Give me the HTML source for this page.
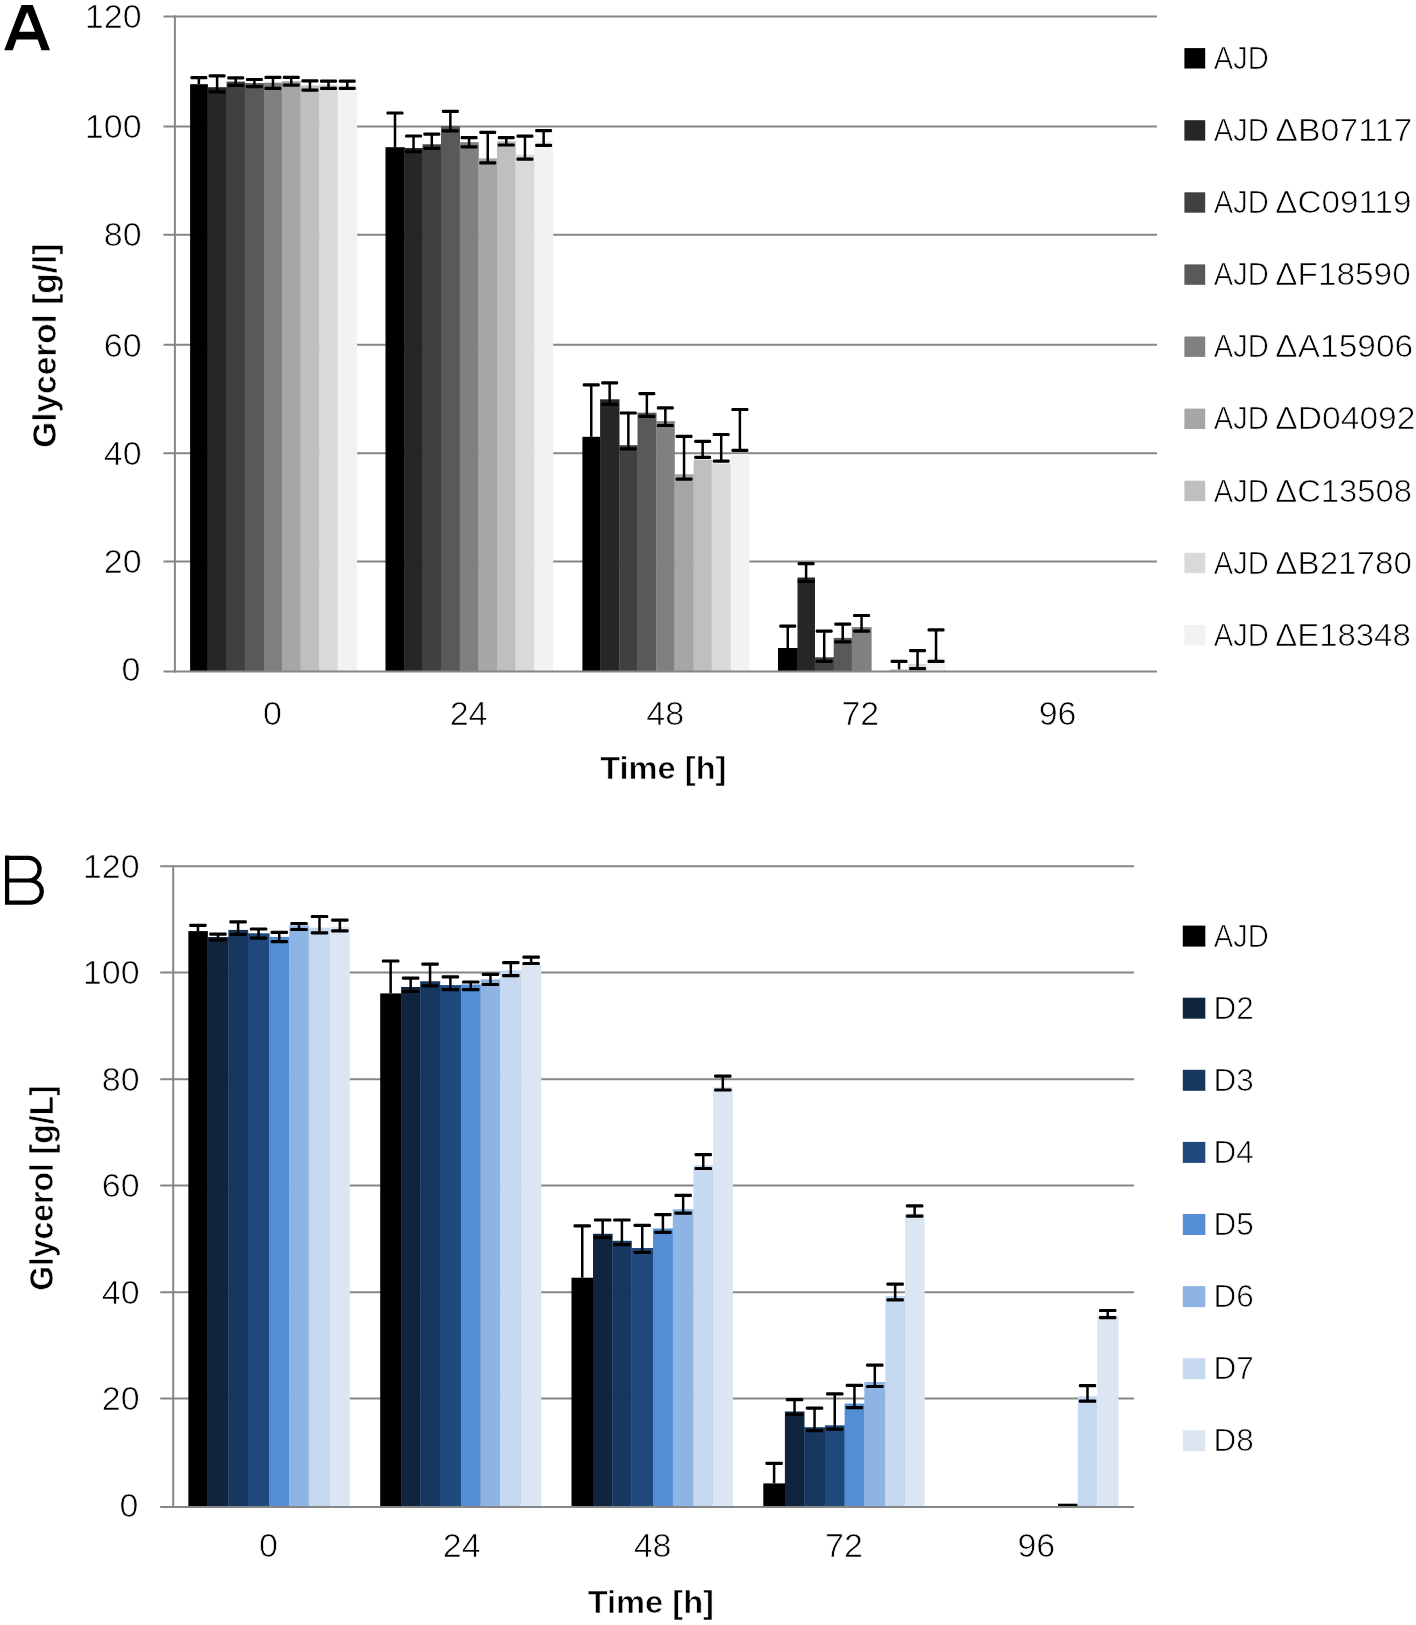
<!DOCTYPE html>
<html><head><meta charset="utf-8"><title>Glycerol consumption</title>
<style>
html,body{margin:0;padding:0;background:#fff;}
body{width:1416px;height:1625px;overflow:hidden;}
svg{display:block;will-change:transform;}
text{font-family:"Liberation Sans",sans-serif;fill:#000;}
.tl{font-size:34px;stroke:#fff;stroke-width:0.7px;}
.lg{font-size:31.5px;stroke:#fff;stroke-width:0.7px;}
.at{font-weight:bold;stroke:#fff;stroke-width:0.6px;}
</style></head><body>
<svg width="1416" height="1625" viewBox="0 0 1416 1625">
<rect width="1416" height="1625" fill="#fff"/>
<text x="140.4" y="681.2" class="tl" text-anchor="end">0</text>
<line x1="163.5" y1="561.45" x2="1157" y2="561.45" stroke="#868686" stroke-width="2"/>
<text x="141.6" y="573.15" class="tl" text-anchor="end">20</text>
<line x1="163.5" y1="453.3" x2="1157" y2="453.3" stroke="#868686" stroke-width="2"/>
<text x="141.6" y="465" class="tl" text-anchor="end">40</text>
<line x1="163.5" y1="344.85" x2="1157" y2="344.85" stroke="#868686" stroke-width="2"/>
<text x="141.6" y="356.55" class="tl" text-anchor="end">60</text>
<line x1="163.5" y1="234.75" x2="1157" y2="234.75" stroke="#868686" stroke-width="2"/>
<text x="141.6" y="246.45" class="tl" text-anchor="end">80</text>
<line x1="163.5" y1="126.5" x2="1157" y2="126.5" stroke="#868686" stroke-width="2"/>
<text x="141.6" y="138.2" class="tl" text-anchor="end">100</text>
<line x1="163.5" y1="16.5" x2="1157" y2="16.5" stroke="#868686" stroke-width="2"/>
<text x="141.6" y="28.2" class="tl" text-anchor="end">120</text>
<rect x="190.1" y="84.2" width="17.8" height="587.3" fill="#000000"/>
<rect x="207.6" y="87.2" width="19.3" height="584.3" fill="#262626"/>
<rect x="226.6" y="81.6" width="18.5" height="589.9" fill="#404040"/>
<rect x="244.8" y="83.1" width="19.5" height="588.4" fill="#595959"/>
<rect x="264" y="82.7" width="18.2" height="588.8" fill="#808080"/>
<rect x="281.9" y="81.2" width="19" height="590.3" fill="#a6a6a6"/>
<rect x="300.6" y="85.5" width="19" height="586" fill="#bfbfbf"/>
<rect x="319.3" y="84.7" width="18.7" height="586.8" fill="#d9d9d9"/>
<rect x="337.7" y="84.7" width="19.4" height="586.8" fill="#f2f2f2"/>
<rect x="385.5" y="147.2" width="19.3" height="524.3" fill="#000000"/>
<rect x="404.5" y="148" width="18.4" height="523.5" fill="#262626"/>
<rect x="422.6" y="144.3" width="18.7" height="527.2" fill="#404040"/>
<rect x="441" y="126.2" width="19" height="545.3" fill="#595959"/>
<rect x="459.7" y="142.2" width="19.1" height="529.3" fill="#808080"/>
<rect x="478.5" y="158.4" width="18.8" height="513.1" fill="#a6a6a6"/>
<rect x="497" y="141.3" width="18.8" height="530.2" fill="#bfbfbf"/>
<rect x="515.5" y="154.7" width="19.2" height="516.8" fill="#d9d9d9"/>
<rect x="534.4" y="140.6" width="18.8" height="530.9" fill="#f2f2f2"/>
<rect x="582.4" y="436.8" width="18" height="234.7" fill="#000000"/>
<rect x="600.1" y="399.3" width="19.4" height="272.2" fill="#262626"/>
<rect x="619.2" y="445.2" width="18.6" height="226.3" fill="#404040"/>
<rect x="637.5" y="412.7" width="19" height="258.8" fill="#595959"/>
<rect x="656.2" y="421.2" width="18.6" height="250.3" fill="#808080"/>
<rect x="674.5" y="474.2" width="19.4" height="197.3" fill="#a6a6a6"/>
<rect x="693.6" y="459.6" width="18.4" height="211.9" fill="#bfbfbf"/>
<rect x="711.7" y="463.5" width="19.3" height="208" fill="#d9d9d9"/>
<rect x="730.7" y="454" width="18.7" height="217.5" fill="#f2f2f2"/>
<rect x="778" y="648" width="19.8" height="23.5" fill="#000000"/>
<rect x="797.5" y="577.5" width="17.5" height="94" fill="#262626"/>
<rect x="814.7" y="657.3" width="19.3" height="14.2" fill="#404040"/>
<rect x="833.7" y="637.9" width="18.4" height="33.6" fill="#595959"/>
<rect x="851.8" y="627.1" width="19.8" height="44.4" fill="#808080"/>
<rect x="889.8" y="669.4" width="18.8" height="2.1" fill="#bfbfbf"/>
<rect x="908.3" y="664" width="18.8" height="7.5" fill="#d9d9d9"/>
<rect x="926.8" y="657.3" width="18.8" height="14.2" fill="#f2f2f2"/>
<line x1="198.85" y1="77.7" x2="198.85" y2="84.2" stroke="#000" stroke-width="2.5"/>
<rect x="190.35" y="76.1" width="17" height="3.2" rx="1.2" fill="#000"/>
<line x1="217.1" y1="75.8" x2="217.1" y2="91.9" stroke="#000" stroke-width="2.5"/>
<rect x="208.6" y="74.2" width="17" height="3.2" rx="1.2" fill="#000"/>
<rect x="208.6" y="90.3" width="17" height="3.2" rx="1.2" fill="#000"/>
<line x1="235.7" y1="77.9" x2="235.7" y2="85.3" stroke="#000" stroke-width="2.5"/>
<rect x="227.2" y="76.3" width="17" height="3.2" rx="1.2" fill="#000"/>
<rect x="227.2" y="83.7" width="17" height="3.2" rx="1.2" fill="#000"/>
<line x1="254.4" y1="79.5" x2="254.4" y2="86.7" stroke="#000" stroke-width="2.5"/>
<rect x="245.9" y="77.9" width="17" height="3.2" rx="1.2" fill="#000"/>
<rect x="245.9" y="85.1" width="17" height="3.2" rx="1.2" fill="#000"/>
<line x1="272.95" y1="77.4" x2="272.95" y2="88.3" stroke="#000" stroke-width="2.5"/>
<rect x="264.45" y="75.8" width="17" height="3.2" rx="1.2" fill="#000"/>
<rect x="264.45" y="86.7" width="17" height="3.2" rx="1.2" fill="#000"/>
<line x1="291.25" y1="77.4" x2="291.25" y2="85.1" stroke="#000" stroke-width="2.5"/>
<rect x="282.75" y="75.8" width="17" height="3.2" rx="1.2" fill="#000"/>
<rect x="282.75" y="83.5" width="17" height="3.2" rx="1.2" fill="#000"/>
<line x1="309.95" y1="80.9" x2="309.95" y2="90.1" stroke="#000" stroke-width="2.5"/>
<rect x="301.45" y="79.3" width="17" height="3.2" rx="1.2" fill="#000"/>
<rect x="301.45" y="88.5" width="17" height="3.2" rx="1.2" fill="#000"/>
<line x1="328.5" y1="81.1" x2="328.5" y2="88.3" stroke="#000" stroke-width="2.5"/>
<rect x="320" y="79.5" width="17" height="3.2" rx="1.2" fill="#000"/>
<rect x="320" y="86.7" width="17" height="3.2" rx="1.2" fill="#000"/>
<line x1="347.25" y1="81.1" x2="347.25" y2="88.3" stroke="#000" stroke-width="2.5"/>
<rect x="338.75" y="79.5" width="17" height="3.2" rx="1.2" fill="#000"/>
<rect x="338.75" y="86.7" width="17" height="3.2" rx="1.2" fill="#000"/>
<line x1="395" y1="113" x2="395" y2="147.2" stroke="#000" stroke-width="2.5"/>
<rect x="386.5" y="111.4" width="17" height="3.2" rx="1.2" fill="#000"/>
<line x1="413.55" y1="136" x2="413.55" y2="151.7" stroke="#000" stroke-width="2.5"/>
<rect x="405.05" y="134.4" width="17" height="3.2" rx="1.2" fill="#000"/>
<rect x="405.05" y="150.1" width="17" height="3.2" rx="1.2" fill="#000"/>
<line x1="431.8" y1="134.2" x2="431.8" y2="148.3" stroke="#000" stroke-width="2.5"/>
<rect x="423.3" y="132.6" width="17" height="3.2" rx="1.2" fill="#000"/>
<rect x="423.3" y="146.7" width="17" height="3.2" rx="1.2" fill="#000"/>
<line x1="450.35" y1="111.4" x2="450.35" y2="130.9" stroke="#000" stroke-width="2.5"/>
<rect x="441.85" y="109.8" width="17" height="3.2" rx="1.2" fill="#000"/>
<rect x="441.85" y="129.3" width="17" height="3.2" rx="1.2" fill="#000"/>
<line x1="469.1" y1="137.6" x2="469.1" y2="146.9" stroke="#000" stroke-width="2.5"/>
<rect x="460.6" y="136" width="17" height="3.2" rx="1.2" fill="#000"/>
<rect x="460.6" y="145.3" width="17" height="3.2" rx="1.2" fill="#000"/>
<line x1="487.75" y1="132.4" x2="487.75" y2="162.8" stroke="#000" stroke-width="2.5"/>
<rect x="479.25" y="130.8" width="17" height="3.2" rx="1.2" fill="#000"/>
<rect x="479.25" y="161.2" width="17" height="3.2" rx="1.2" fill="#000"/>
<line x1="506.25" y1="137.6" x2="506.25" y2="145" stroke="#000" stroke-width="2.5"/>
<rect x="497.75" y="136" width="17" height="3.2" rx="1.2" fill="#000"/>
<rect x="497.75" y="143.4" width="17" height="3.2" rx="1.2" fill="#000"/>
<line x1="524.95" y1="136.1" x2="524.95" y2="159.1" stroke="#000" stroke-width="2.5"/>
<rect x="516.45" y="134.5" width="17" height="3.2" rx="1.2" fill="#000"/>
<rect x="516.45" y="157.5" width="17" height="3.2" rx="1.2" fill="#000"/>
<line x1="543.65" y1="130.6" x2="543.65" y2="145.4" stroke="#000" stroke-width="2.5"/>
<rect x="535.15" y="129" width="17" height="3.2" rx="1.2" fill="#000"/>
<rect x="535.15" y="143.8" width="17" height="3.2" rx="1.2" fill="#000"/>
<line x1="591.25" y1="384.9" x2="591.25" y2="436.8" stroke="#000" stroke-width="2.5"/>
<rect x="582.75" y="383.3" width="17" height="3.2" rx="1.2" fill="#000"/>
<line x1="609.65" y1="382.8" x2="609.65" y2="404.3" stroke="#000" stroke-width="2.5"/>
<rect x="601.15" y="381.2" width="17" height="3.2" rx="1.2" fill="#000"/>
<rect x="601.15" y="402.7" width="17" height="3.2" rx="1.2" fill="#000"/>
<line x1="628.35" y1="413" x2="628.35" y2="448.8" stroke="#000" stroke-width="2.5"/>
<rect x="619.85" y="411.4" width="17" height="3.2" rx="1.2" fill="#000"/>
<rect x="619.85" y="447.2" width="17" height="3.2" rx="1.2" fill="#000"/>
<line x1="646.85" y1="393.7" x2="646.85" y2="416.3" stroke="#000" stroke-width="2.5"/>
<rect x="638.35" y="392.1" width="17" height="3.2" rx="1.2" fill="#000"/>
<rect x="638.35" y="414.7" width="17" height="3.2" rx="1.2" fill="#000"/>
<line x1="665.35" y1="407.8" x2="665.35" y2="425.5" stroke="#000" stroke-width="2.5"/>
<rect x="656.85" y="406.2" width="17" height="3.2" rx="1.2" fill="#000"/>
<rect x="656.85" y="423.9" width="17" height="3.2" rx="1.2" fill="#000"/>
<line x1="684.05" y1="436.3" x2="684.05" y2="479.1" stroke="#000" stroke-width="2.5"/>
<rect x="675.55" y="434.7" width="17" height="3.2" rx="1.2" fill="#000"/>
<rect x="675.55" y="477.5" width="17" height="3.2" rx="1.2" fill="#000"/>
<line x1="702.65" y1="441.4" x2="702.65" y2="457.4" stroke="#000" stroke-width="2.5"/>
<rect x="694.15" y="439.8" width="17" height="3.2" rx="1.2" fill="#000"/>
<rect x="694.15" y="455.8" width="17" height="3.2" rx="1.2" fill="#000"/>
<line x1="721.2" y1="434.5" x2="721.2" y2="461.1" stroke="#000" stroke-width="2.5"/>
<rect x="712.7" y="432.9" width="17" height="3.2" rx="1.2" fill="#000"/>
<rect x="712.7" y="459.5" width="17" height="3.2" rx="1.2" fill="#000"/>
<line x1="739.9" y1="409.5" x2="739.9" y2="450.4" stroke="#000" stroke-width="2.5"/>
<rect x="731.4" y="407.9" width="17" height="3.2" rx="1.2" fill="#000"/>
<rect x="731.4" y="448.8" width="17" height="3.2" rx="1.2" fill="#000"/>
<line x1="787.75" y1="626.2" x2="787.75" y2="648" stroke="#000" stroke-width="2.5"/>
<rect x="779.25" y="624.6" width="17" height="3.2" rx="1.2" fill="#000"/>
<line x1="806.1" y1="563.7" x2="806.1" y2="581.5" stroke="#000" stroke-width="2.5"/>
<rect x="797.6" y="562.1" width="17" height="3.2" rx="1.2" fill="#000"/>
<rect x="797.6" y="579.9" width="17" height="3.2" rx="1.2" fill="#000"/>
<line x1="824.2" y1="631.2" x2="824.2" y2="661.4" stroke="#000" stroke-width="2.5"/>
<rect x="815.7" y="629.6" width="17" height="3.2" rx="1.2" fill="#000"/>
<rect x="815.7" y="659.8" width="17" height="3.2" rx="1.2" fill="#000"/>
<line x1="842.75" y1="624.2" x2="842.75" y2="641.9" stroke="#000" stroke-width="2.5"/>
<rect x="834.25" y="622.6" width="17" height="3.2" rx="1.2" fill="#000"/>
<rect x="834.25" y="640.3" width="17" height="3.2" rx="1.2" fill="#000"/>
<line x1="861.55" y1="615.5" x2="861.55" y2="631.2" stroke="#000" stroke-width="2.5"/>
<rect x="853.05" y="613.9" width="17" height="3.2" rx="1.2" fill="#000"/>
<rect x="853.05" y="629.6" width="17" height="3.2" rx="1.2" fill="#000"/>
<line x1="899.05" y1="661.4" x2="899.05" y2="669.4" stroke="#000" stroke-width="2.5"/>
<rect x="890.55" y="659.8" width="17" height="3.2" rx="1.2" fill="#000"/>
<line x1="917.55" y1="650.6" x2="917.55" y2="668.7" stroke="#000" stroke-width="2.5"/>
<rect x="909.05" y="649" width="17" height="3.2" rx="1.2" fill="#000"/>
<rect x="909.05" y="667.1" width="17" height="3.2" rx="1.2" fill="#000"/>
<line x1="936.05" y1="629.8" x2="936.05" y2="661.4" stroke="#000" stroke-width="2.5"/>
<rect x="927.55" y="628.2" width="17" height="3.2" rx="1.2" fill="#000"/>
<rect x="927.55" y="659.8" width="17" height="3.2" rx="1.2" fill="#000"/>
<line x1="174.9" y1="15.5" x2="174.9" y2="672.5" stroke="#868686" stroke-width="2"/>
<line x1="163.5" y1="671.5" x2="1157" y2="671.5" stroke="#868686" stroke-width="2"/>
<text x="272.4" y="724.6" class="tl" text-anchor="middle">0</text>
<text x="468.6" y="724.6" class="tl" text-anchor="middle">24</text>
<text x="665.2" y="724.6" class="tl" text-anchor="middle">48</text>
<text x="860.3" y="724.6" class="tl" text-anchor="middle">72</text>
<text x="1057.6" y="724.6" class="tl" text-anchor="middle">96</text>
<path d="M21.6 5.1 H32.8 L50 50.2 H41.5 L37.7 39.4 H16.6 L12.7 50.2 H4.2 Z M27.1 11.9 L19.1 31.8 H35 Z" fill="#000" fill-rule="evenodd"/>
<text class="at" font-size="34" transform="translate(55.8,345.7) rotate(-90)" text-anchor="middle" textLength="204" lengthAdjust="spacingAndGlyphs">Glycerol [g/l]</text>
<text x="663.3" y="779.1" class="at" font-size="31.6" text-anchor="middle" textLength="126.3" lengthAdjust="spacingAndGlyphs">Time [h]</text>
<rect x="1184.4" y="48.1" width="20.8" height="20.4" fill="#000000"/>
<text x="1213.8" y="68.9" class="lg" textLength="55" lengthAdjust="spacingAndGlyphs">AJD</text>
<rect x="1184.4" y="120.2" width="20.8" height="20.4" fill="#262626"/>
<text x="1213.8" y="141" class="lg" textLength="55" lengthAdjust="spacingAndGlyphs">AJD</text>
<text x="1275.3" y="141" class="lg" textLength="137.1" lengthAdjust="spacingAndGlyphs">ΔB07117</text>
<rect x="1184.4" y="192.3" width="20.8" height="20.4" fill="#404040"/>
<text x="1213.8" y="213.1" class="lg" textLength="55" lengthAdjust="spacingAndGlyphs">AJD</text>
<text x="1275.3" y="213.1" class="lg" textLength="136.1" lengthAdjust="spacingAndGlyphs">ΔC09119</text>
<rect x="1184.4" y="264.4" width="20.8" height="20.4" fill="#595959"/>
<text x="1213.8" y="285.2" class="lg" textLength="55" lengthAdjust="spacingAndGlyphs">AJD</text>
<text x="1275.3" y="285.2" class="lg" textLength="135.4" lengthAdjust="spacingAndGlyphs">ΔF18590</text>
<rect x="1184.4" y="336.5" width="20.8" height="20.4" fill="#808080"/>
<text x="1213.8" y="357.3" class="lg" textLength="55" lengthAdjust="spacingAndGlyphs">AJD</text>
<text x="1275.3" y="357.3" class="lg" textLength="137.9" lengthAdjust="spacingAndGlyphs">ΔA15906</text>
<rect x="1184.4" y="408.6" width="20.8" height="20.4" fill="#a6a6a6"/>
<text x="1213.8" y="429.4" class="lg" textLength="55" lengthAdjust="spacingAndGlyphs">AJD</text>
<text x="1275.3" y="429.4" class="lg" textLength="140.2" lengthAdjust="spacingAndGlyphs">ΔD04092</text>
<rect x="1184.4" y="480.7" width="20.8" height="20.4" fill="#bfbfbf"/>
<text x="1213.8" y="501.5" class="lg" textLength="55" lengthAdjust="spacingAndGlyphs">AJD</text>
<text x="1275.3" y="501.5" class="lg" textLength="136.7" lengthAdjust="spacingAndGlyphs">ΔC13508</text>
<rect x="1184.4" y="552.8" width="20.8" height="20.4" fill="#d9d9d9"/>
<text x="1213.8" y="573.6" class="lg" textLength="55" lengthAdjust="spacingAndGlyphs">AJD</text>
<text x="1275.3" y="573.6" class="lg" textLength="136.7" lengthAdjust="spacingAndGlyphs">ΔB21780</text>
<rect x="1184.4" y="624.9" width="20.8" height="20.4" fill="#f2f2f2"/>
<text x="1213.8" y="645.7" class="lg" textLength="55" lengthAdjust="spacingAndGlyphs">AJD</text>
<text x="1275.3" y="645.7" class="lg" textLength="135.4" lengthAdjust="spacingAndGlyphs">ΔE18348</text>
<text x="138.4" y="1516.7" class="tl" text-anchor="end">0</text>
<line x1="160.2" y1="1398.6" x2="1134.1" y2="1398.6" stroke="#868686" stroke-width="2"/>
<text x="139.6" y="1410.3" class="tl" text-anchor="end">20</text>
<line x1="160.2" y1="1292.3" x2="1134.1" y2="1292.3" stroke="#868686" stroke-width="2"/>
<text x="139.6" y="1304" class="tl" text-anchor="end">40</text>
<line x1="160.2" y1="1185.6" x2="1134.1" y2="1185.6" stroke="#868686" stroke-width="2"/>
<text x="139.6" y="1197.3" class="tl" text-anchor="end">60</text>
<line x1="160.2" y1="1079.2" x2="1134.1" y2="1079.2" stroke="#868686" stroke-width="2"/>
<text x="139.6" y="1090.9" class="tl" text-anchor="end">80</text>
<line x1="160.2" y1="972.6" x2="1134.1" y2="972.6" stroke="#868686" stroke-width="2"/>
<text x="139.6" y="984.3" class="tl" text-anchor="end">100</text>
<line x1="160.2" y1="866.25" x2="1134.1" y2="866.25" stroke="#868686" stroke-width="2"/>
<text x="139.6" y="877.95" class="tl" text-anchor="end">120</text>
<rect x="188.35" y="931.1" width="19.5" height="575.9" fill="#000000"/>
<rect x="207.55" y="937" width="21.15" height="570" fill="#10243e"/>
<rect x="228.4" y="929.9" width="19.75" height="577.1" fill="#17375e"/>
<rect x="247.85" y="933.3" width="21.75" height="573.7" fill="#1f497d"/>
<rect x="269.3" y="936.9" width="20.25" height="570.1" fill="#558ed5"/>
<rect x="289.25" y="925.4" width="19.85" height="581.6" fill="#8eb4e3"/>
<rect x="308.8" y="927.7" width="21.65" height="579.3" fill="#c6d9f1"/>
<rect x="330.15" y="926.7" width="19.75" height="580.3" fill="#dce6f2"/>
<rect x="380.2" y="993.4" width="21.2" height="513.6" fill="#000000"/>
<rect x="401.1" y="987" width="19.4" height="520" fill="#10243e"/>
<rect x="420.2" y="981.3" width="20" height="525.7" fill="#17375e"/>
<rect x="439.9" y="985.1" width="21.3" height="521.9" fill="#1f497d"/>
<rect x="460.9" y="984.5" width="20" height="522.5" fill="#558ed5"/>
<rect x="480.6" y="979.4" width="20" height="527.6" fill="#8eb4e3"/>
<rect x="500.3" y="970.5" width="21.3" height="536.5" fill="#c6d9f1"/>
<rect x="521.3" y="964.8" width="20" height="542.2" fill="#dce6f2"/>
<rect x="571.5" y="1277.7" width="21.8" height="229.3" fill="#000000"/>
<rect x="593" y="1233.8" width="19.6" height="273.2" fill="#10243e"/>
<rect x="612.3" y="1240.8" width="19.5" height="266.2" fill="#17375e"/>
<rect x="631.5" y="1248" width="21.8" height="259" fill="#1f497d"/>
<rect x="653" y="1228.5" width="20.1" height="278.5" fill="#558ed5"/>
<rect x="672.8" y="1209.2" width="21" height="297.8" fill="#8eb4e3"/>
<rect x="693.5" y="1165.4" width="19.8" height="341.6" fill="#c6d9f1"/>
<rect x="713" y="1086.9" width="19.9" height="420.1" fill="#dce6f2"/>
<rect x="763.3" y="1483.4" width="21.9" height="23.6" fill="#000000"/>
<rect x="784.9" y="1411.5" width="19.6" height="95.5" fill="#10243e"/>
<rect x="804.2" y="1427.2" width="21" height="79.8" fill="#17375e"/>
<rect x="824.9" y="1425.3" width="20" height="81.7" fill="#1f497d"/>
<rect x="844.6" y="1403.6" width="20" height="103.4" fill="#558ed5"/>
<rect x="864.3" y="1382" width="21.3" height="125" fill="#8eb4e3"/>
<rect x="885.3" y="1295.9" width="20" height="211.1" fill="#c6d9f1"/>
<rect x="905" y="1213.6" width="19.6" height="293.4" fill="#dce6f2"/>
<line x1="1058" y1="1505.2" x2="1077.5" y2="1505.2" stroke="#000" stroke-width="3"/>
<rect x="1077.8" y="1396.2" width="19.7" height="110.8" fill="#c6d9f1"/>
<rect x="1097.2" y="1315.5" width="21.3" height="191.5" fill="#dce6f2"/>
<line x1="197.95" y1="925.4" x2="197.95" y2="931.1" stroke="#000" stroke-width="2.5"/>
<rect x="189.2" y="923.8" width="17.5" height="3.2" rx="1.2" fill="#000"/>
<line x1="217.98" y1="934.1" x2="217.98" y2="940" stroke="#000" stroke-width="2.5"/>
<rect x="209.23" y="932.5" width="17.5" height="3.2" rx="1.2" fill="#000"/>
<rect x="209.23" y="938.4" width="17.5" height="3.2" rx="1.2" fill="#000"/>
<line x1="238.12" y1="921.9" x2="238.12" y2="934.3" stroke="#000" stroke-width="2.5"/>
<rect x="229.38" y="920.3" width="17.5" height="3.2" rx="1.2" fill="#000"/>
<rect x="229.38" y="932.7" width="17.5" height="3.2" rx="1.2" fill="#000"/>
<line x1="258.57" y1="929" x2="258.57" y2="938.1" stroke="#000" stroke-width="2.5"/>
<rect x="249.82" y="927.4" width="17.5" height="3.2" rx="1.2" fill="#000"/>
<rect x="249.82" y="936.5" width="17.5" height="3.2" rx="1.2" fill="#000"/>
<line x1="279.27" y1="932.4" x2="279.27" y2="941.7" stroke="#000" stroke-width="2.5"/>
<rect x="270.52" y="930.8" width="17.5" height="3.2" rx="1.2" fill="#000"/>
<rect x="270.52" y="940.1" width="17.5" height="3.2" rx="1.2" fill="#000"/>
<line x1="299.02" y1="923.5" x2="299.02" y2="929.5" stroke="#000" stroke-width="2.5"/>
<rect x="290.27" y="921.9" width="17.5" height="3.2" rx="1.2" fill="#000"/>
<rect x="290.27" y="927.9" width="17.5" height="3.2" rx="1.2" fill="#000"/>
<line x1="319.48" y1="916.5" x2="319.48" y2="932.8" stroke="#000" stroke-width="2.5"/>
<rect x="310.73" y="914.9" width="17.5" height="3.2" rx="1.2" fill="#000"/>
<rect x="310.73" y="931.2" width="17.5" height="3.2" rx="1.2" fill="#000"/>
<line x1="339.88" y1="920.1" x2="339.88" y2="930.9" stroke="#000" stroke-width="2.5"/>
<rect x="331.12" y="918.5" width="17.5" height="3.2" rx="1.2" fill="#000"/>
<rect x="331.12" y="929.3" width="17.5" height="3.2" rx="1.2" fill="#000"/>
<line x1="390.65" y1="961" x2="390.65" y2="993.4" stroke="#000" stroke-width="2.5"/>
<rect x="381.9" y="959.4" width="17.5" height="3.2" rx="1.2" fill="#000"/>
<line x1="410.65" y1="978.1" x2="410.65" y2="991.5" stroke="#000" stroke-width="2.5"/>
<rect x="401.9" y="976.5" width="17.5" height="3.2" rx="1.2" fill="#000"/>
<rect x="401.9" y="989.9" width="17.5" height="3.2" rx="1.2" fill="#000"/>
<line x1="430.05" y1="964.2" x2="430.05" y2="985.8" stroke="#000" stroke-width="2.5"/>
<rect x="421.3" y="962.6" width="17.5" height="3.2" rx="1.2" fill="#000"/>
<rect x="421.3" y="984.2" width="17.5" height="3.2" rx="1.2" fill="#000"/>
<line x1="450.4" y1="976.9" x2="450.4" y2="989.6" stroke="#000" stroke-width="2.5"/>
<rect x="441.65" y="975.3" width="17.5" height="3.2" rx="1.2" fill="#000"/>
<rect x="441.65" y="988" width="17.5" height="3.2" rx="1.2" fill="#000"/>
<line x1="470.75" y1="982" x2="470.75" y2="989.6" stroke="#000" stroke-width="2.5"/>
<rect x="462" y="980.4" width="17.5" height="3.2" rx="1.2" fill="#000"/>
<rect x="462" y="988" width="17.5" height="3.2" rx="1.2" fill="#000"/>
<line x1="490.45" y1="974.3" x2="490.45" y2="984.5" stroke="#000" stroke-width="2.5"/>
<rect x="481.7" y="972.7" width="17.5" height="3.2" rx="1.2" fill="#000"/>
<rect x="481.7" y="982.9" width="17.5" height="3.2" rx="1.2" fill="#000"/>
<line x1="510.8" y1="962.6" x2="510.8" y2="975.6" stroke="#000" stroke-width="2.5"/>
<rect x="502.05" y="961" width="17.5" height="3.2" rx="1.2" fill="#000"/>
<rect x="502.05" y="974" width="17.5" height="3.2" rx="1.2" fill="#000"/>
<line x1="531.15" y1="957.2" x2="531.15" y2="963.5" stroke="#000" stroke-width="2.5"/>
<rect x="522.4" y="955.6" width="17.5" height="3.2" rx="1.2" fill="#000"/>
<rect x="522.4" y="961.9" width="17.5" height="3.2" rx="1.2" fill="#000"/>
<line x1="582.25" y1="1225.8" x2="582.25" y2="1277.7" stroke="#000" stroke-width="2.5"/>
<rect x="573.5" y="1224.2" width="17.5" height="3.2" rx="1.2" fill="#000"/>
<line x1="602.65" y1="1220" x2="602.65" y2="1237.7" stroke="#000" stroke-width="2.5"/>
<rect x="593.9" y="1218.4" width="17.5" height="3.2" rx="1.2" fill="#000"/>
<rect x="593.9" y="1236.1" width="17.5" height="3.2" rx="1.2" fill="#000"/>
<line x1="621.9" y1="1220" x2="621.9" y2="1244.6" stroke="#000" stroke-width="2.5"/>
<rect x="613.15" y="1218.4" width="17.5" height="3.2" rx="1.2" fill="#000"/>
<rect x="613.15" y="1243" width="17.5" height="3.2" rx="1.2" fill="#000"/>
<line x1="642.25" y1="1225.4" x2="642.25" y2="1252.3" stroke="#000" stroke-width="2.5"/>
<rect x="633.5" y="1223.8" width="17.5" height="3.2" rx="1.2" fill="#000"/>
<rect x="633.5" y="1250.7" width="17.5" height="3.2" rx="1.2" fill="#000"/>
<line x1="662.9" y1="1214.6" x2="662.9" y2="1232.3" stroke="#000" stroke-width="2.5"/>
<rect x="654.15" y="1213" width="17.5" height="3.2" rx="1.2" fill="#000"/>
<rect x="654.15" y="1230.7" width="17.5" height="3.2" rx="1.2" fill="#000"/>
<line x1="683.15" y1="1195.4" x2="683.15" y2="1213.1" stroke="#000" stroke-width="2.5"/>
<rect x="674.4" y="1193.8" width="17.5" height="3.2" rx="1.2" fill="#000"/>
<rect x="674.4" y="1211.5" width="17.5" height="3.2" rx="1.2" fill="#000"/>
<line x1="703.25" y1="1154.6" x2="703.25" y2="1168.5" stroke="#000" stroke-width="2.5"/>
<rect x="694.5" y="1153" width="17.5" height="3.2" rx="1.2" fill="#000"/>
<rect x="694.5" y="1166.9" width="17.5" height="3.2" rx="1.2" fill="#000"/>
<line x1="722.8" y1="1076.2" x2="722.8" y2="1090" stroke="#000" stroke-width="2.5"/>
<rect x="714.05" y="1074.6" width="17.5" height="3.2" rx="1.2" fill="#000"/>
<rect x="714.05" y="1088.4" width="17.5" height="3.2" rx="1.2" fill="#000"/>
<line x1="774.1" y1="1463.3" x2="774.1" y2="1483.4" stroke="#000" stroke-width="2.5"/>
<rect x="765.35" y="1461.7" width="17.5" height="3.2" rx="1.2" fill="#000"/>
<line x1="794.55" y1="1399.7" x2="794.55" y2="1414.5" stroke="#000" stroke-width="2.5"/>
<rect x="785.8" y="1398.1" width="17.5" height="3.2" rx="1.2" fill="#000"/>
<rect x="785.8" y="1412.9" width="17.5" height="3.2" rx="1.2" fill="#000"/>
<line x1="814.55" y1="1408.2" x2="814.55" y2="1430.6" stroke="#000" stroke-width="2.5"/>
<rect x="805.8" y="1406.6" width="17.5" height="3.2" rx="1.2" fill="#000"/>
<rect x="805.8" y="1429" width="17.5" height="3.2" rx="1.2" fill="#000"/>
<line x1="834.75" y1="1393.8" x2="834.75" y2="1429.2" stroke="#000" stroke-width="2.5"/>
<rect x="826" y="1392.2" width="17.5" height="3.2" rx="1.2" fill="#000"/>
<rect x="826" y="1427.6" width="17.5" height="3.2" rx="1.2" fill="#000"/>
<line x1="854.45" y1="1385.3" x2="854.45" y2="1407.6" stroke="#000" stroke-width="2.5"/>
<rect x="845.7" y="1383.7" width="17.5" height="3.2" rx="1.2" fill="#000"/>
<rect x="845.7" y="1406" width="17.5" height="3.2" rx="1.2" fill="#000"/>
<line x1="874.8" y1="1365.2" x2="874.8" y2="1386.5" stroke="#000" stroke-width="2.5"/>
<rect x="866.05" y="1363.6" width="17.5" height="3.2" rx="1.2" fill="#000"/>
<rect x="866.05" y="1384.9" width="17.5" height="3.2" rx="1.2" fill="#000"/>
<line x1="895.15" y1="1284.1" x2="895.15" y2="1299.9" stroke="#000" stroke-width="2.5"/>
<rect x="886.4" y="1282.5" width="17.5" height="3.2" rx="1.2" fill="#000"/>
<rect x="886.4" y="1298.3" width="17.5" height="3.2" rx="1.2" fill="#000"/>
<line x1="914.65" y1="1205.8" x2="914.65" y2="1216.2" stroke="#000" stroke-width="2.5"/>
<rect x="905.9" y="1204.2" width="17.5" height="3.2" rx="1.2" fill="#000"/>
<rect x="905.9" y="1214.6" width="17.5" height="3.2" rx="1.2" fill="#000"/>
<line x1="1087.5" y1="1385.6" x2="1087.5" y2="1401.1" stroke="#000" stroke-width="2.5"/>
<rect x="1078.75" y="1384" width="17.5" height="3.2" rx="1.2" fill="#000"/>
<rect x="1078.75" y="1399.5" width="17.5" height="3.2" rx="1.2" fill="#000"/>
<line x1="1107.7" y1="1310.5" x2="1107.7" y2="1317.6" stroke="#000" stroke-width="2.5"/>
<rect x="1098.95" y="1308.9" width="17.5" height="3.2" rx="1.2" fill="#000"/>
<rect x="1098.95" y="1316" width="17.5" height="3.2" rx="1.2" fill="#000"/>
<line x1="173.2" y1="865.25" x2="173.2" y2="1508" stroke="#868686" stroke-width="2"/>
<line x1="160.2" y1="1507" x2="1134.1" y2="1507" stroke="#868686" stroke-width="2"/>
<text x="268.5" y="1556.6" class="tl" text-anchor="middle">0</text>
<text x="461.7" y="1556.6" class="tl" text-anchor="middle">24</text>
<text x="652.6" y="1556.6" class="tl" text-anchor="middle">48</text>
<text x="844" y="1556.6" class="tl" text-anchor="middle">72</text>
<text x="1036.3" y="1556.6" class="tl" text-anchor="middle">96</text>
<path d="M7.1 855.6 V904.8 M5 857.8 H28.6 A11 11.35 0 0 1 28.6 880.5 H7.1 M28.6 880.5 H30.2 A11.6 11.1 0 0 1 30.2 902.7 H5" fill="none" stroke="#000" stroke-width="4.2"/>
<text class="at" font-size="32.6" transform="translate(53.0,1188.1) rotate(-90)" text-anchor="middle" textLength="205.5" lengthAdjust="spacingAndGlyphs">Glycerol [g/L]</text>
<text x="650.8" y="1613.1" class="at" font-size="31.6" text-anchor="middle" textLength="126.3" lengthAdjust="spacingAndGlyphs">Time [h]</text>
<rect x="1182.8" y="925.6" width="22.5" height="21" fill="#000000"/>
<text x="1213.8" y="946.7" class="lg" textLength="55" lengthAdjust="spacingAndGlyphs">AJD</text>
<rect x="1182.8" y="997.7" width="22.5" height="21" fill="#10243e"/>
<text x="1213.5" y="1018.8" class="lg">D2</text>
<rect x="1182.8" y="1069.8" width="22.5" height="21" fill="#17375e"/>
<text x="1213.5" y="1090.9" class="lg">D3</text>
<rect x="1182.8" y="1141.9" width="22.5" height="21" fill="#1f497d"/>
<text x="1213.5" y="1163" class="lg">D4</text>
<rect x="1182.8" y="1214" width="22.5" height="21" fill="#558ed5"/>
<text x="1213.5" y="1235.1" class="lg">D5</text>
<rect x="1182.8" y="1286.1" width="22.5" height="21" fill="#8eb4e3"/>
<text x="1213.5" y="1307.2" class="lg">D6</text>
<rect x="1182.8" y="1358.2" width="22.5" height="21" fill="#c6d9f1"/>
<text x="1213.5" y="1379.3" class="lg">D7</text>
<rect x="1182.8" y="1430.3" width="22.5" height="21" fill="#dce6f2"/>
<text x="1213.5" y="1451.4" class="lg">D8</text>
</svg>
</body></html>
